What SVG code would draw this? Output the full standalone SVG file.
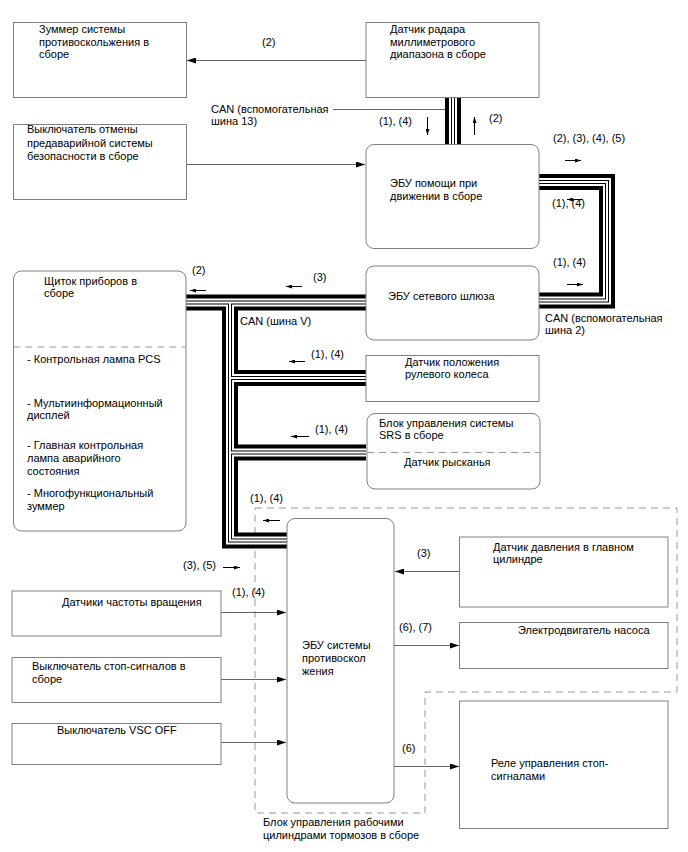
<svg xmlns="http://www.w3.org/2000/svg" width="688" height="852" viewBox="0 0 688 852">
<style>
text{font-family:"Liberation Sans",Arial,sans-serif;font-size:11px;fill:#000}
.box{fill:#fff;stroke:#808080;stroke-width:1}
.sep{stroke:#999;stroke-width:1;stroke-dasharray:7,5;fill:none}
.con{stroke:#666;stroke-width:1;fill:none}
.ind{stroke:#000;stroke-width:1;fill:none}
.b1{stroke:#000;stroke-width:16;fill:none;stroke-linejoin:miter}
.b2{stroke:#fff;stroke-width:8;fill:none;stroke-linejoin:miter}
.b3{stroke:#000;stroke-width:4;fill:none;stroke-linejoin:miter}
.b4{stroke:#fff;stroke-width:2;fill:none;stroke-linejoin:miter}
</style>
<defs>
<marker id="ah" markerUnits="userSpaceOnUse" markerWidth="9" markerHeight="6" refX="9" refY="3" orient="auto"><path d="M0,0 L9,3 L0,6 z" fill="#000"/></marker>
<marker id="sh" markerUnits="userSpaceOnUse" markerWidth="6" markerHeight="4" refX="6" refY="2" orient="auto"><path d="M0,0 L6,2 L0,4 z" fill="#000"/></marker>
</defs>

<g id="brake-actuator-boundary">
<path class="sep" d="M255,508 H677 V692 H425 V813 H255 Z"/>
<text x="263" y="826">Блок управления рабочими</text>
<text x="263" y="839">цилиндрами тормозов в сборе</text>
</g>

<g id="connectors">
<g id="buses">
<path class="b1" d="M453,97 V144"/>
<path class="b1" d="M539,182 H607 V300.5 H539"/>
<path class="b1" d="M186,302.5 H366"/>
<path class="b1" d="M230,302.5 V540.5 H287"/>
<path class="b1" d="M230,378 H366"/>
<path class="b1" d="M230,452.5 H366"/>
<path class="b2" d="M453,97 V144"/>
<path class="b2" d="M539,182 H607 V300.5 H539"/>
<path class="b2" d="M186,302.5 H366"/>
<path class="b2" d="M230,302.5 V540.5 H287"/>
<path class="b2" d="M230,378 H366"/>
<path class="b2" d="M230,452.5 H366"/>
<path class="b3" d="M453,97 V144"/>
<path class="b3" d="M539,182 H607 V300.5 H539"/>
<path class="b3" d="M186,302.5 H366"/>
<path class="b3" d="M230,302.5 V540.5 H287"/>
<path class="b3" d="M230,378 H366"/>
<path class="b3" d="M230,452.5 H366"/>
<path class="b4" d="M453,97 V144"/>
<path class="b4" d="M539,182 H607 V300.5 H539"/>
<path class="b4" d="M186,302.5 H366"/>
<path class="b4" d="M230,302.5 V540.5 H287"/>
<path class="b4" d="M230,378 H366"/>
<path class="b4" d="M230,452.5 H366"/>
</g>
<path class="con" d="M366,60.5 H187" marker-end="url(#ah)"/>
<path class="con" d="M186,164.5 H365" marker-end="url(#ah)"/>
<path class="con" d="M333,109.5 H445"/>
<path class="con" d="M459,571.5 H395" marker-end="url(#ah)"/>
<path class="con" d="M221,612.5 H286" marker-end="url(#ah)"/>
<path class="con" d="M221,679.5 H286" marker-end="url(#ah)"/>
<path class="con" d="M221,742.5 H286" marker-end="url(#ah)"/>
<path class="con" d="M394,645.5 H459" marker-end="url(#ah)"/>
<path class="con" d="M394,766.5 H459" marker-end="url(#ah)"/>
<path class="ind" d="M427.5,117 V135" marker-end="url(#sh)"/>
<path class="ind" d="M474.5,135 V117" marker-end="url(#sh)"/>
<path class="ind" d="M565,160.5 H581" marker-end="url(#sh)"/>
<path class="ind" d="M583,199.5 H567" marker-end="url(#sh)"/>
<path class="ind" d="M567,284.5 H583" marker-end="url(#sh)"/>
<path class="ind" d="M206,290.5 H190" marker-end="url(#sh)"/>
<path class="ind" d="M302,286.5 H286" marker-end="url(#sh)"/>
<path class="ind" d="M305,361.5 H289" marker-end="url(#sh)"/>
<path class="ind" d="M309,436.5 H291" marker-end="url(#sh)"/>
<path class="ind" d="M280,520.5 H263" marker-end="url(#sh)"/>
<path class="ind" d="M223,567.5 H240" marker-end="url(#sh)"/>
<text x="262" y="46">(2)</text>
<text x="211" y="113">CAN (вспомогательная</text>
<text x="211" y="125">шина 13)</text>
<text x="379" y="125">(1), (4)</text>
<text x="489" y="122">(2)</text>
<text x="553" y="142">(2), (3), (4), (5)</text>
<text x="552" y="207">(1), (4)</text>
<text x="553" y="266">(1), (4)</text>
<text x="545" y="322">CAN (вспомогательная</text>
<text x="545" y="334">шина 2)</text>
<text x="192" y="274">(2)</text>
<text x="313" y="281">(3)</text>
<text x="240" y="325">CAN (шина V)</text>
<text x="311" y="358">(1), (4)</text>
<text x="315" y="433">(1), (4)</text>
<text x="250" y="502">(1), (4)</text>
<text x="183" y="569">(3), (5)</text>
<text x="232" y="596">(1), (4)</text>
<text x="417" y="557">(3)</text>
<text x="399" y="631">(6), (7)</text>
<text x="402" y="752">(6)</text>
</g>

<g id="zummer">
<rect class="box" x="13.5" y="22.5" width="173" height="75"/>
<text x="39" y="33">Зуммер системы</text>
<text x="39" y="46">противоскольжения в</text>
<text x="39" y="58">сборе</text>
</g>

<g id="cancel-switch">
<rect class="box" x="13.5" y="124.5" width="173" height="75"/>
<text x="27" y="133">Выключатель отмены</text>
<text x="27" y="147">предаварийной системы</text>
<text x="27" y="160">безопасности в сборе</text>
</g>

<g id="radar">
<rect class="box" x="366" y="22.5" width="173" height="75"/>
<text x="390" y="33">Датчик радара</text>
<text x="390" y="46">миллиметрового</text>
<text x="390" y="58">диапазона в сборе</text>
</g>

<g id="driving-ecu">
<rect class="box" x="366" y="144.5" width="173" height="104" rx="8"/>
<text x="390" y="187">ЭБУ помощи при</text>
<text x="390" y="200">движении в сборе</text>
</g>

<g id="gateway-ecu">
<rect class="box" x="366" y="266" width="173" height="74" rx="8"/>
<text x="388" y="300">ЭБУ сетевого шлюза</text>
</g>

<g id="steering-sensor">
<rect class="box" x="366" y="355.5" width="173" height="46"/>
<text x="405" y="366">Датчик положения</text>
<text x="405" y="378">рулевого колеса</text>
</g>

<g id="srs">
<rect class="box" x="367" y="413.5" width="173" height="75.5" rx="8"/>
<path class="sep" d="M367,452.5 H540"/>
<text x="379" y="427">Блок управления системы</text>
<text x="379" y="439">SRS в сборе</text>
<text x="404" y="466">Датчик рысканья</text>
</g>

<g id="cluster">
<rect class="box" x="13.5" y="271" width="172.5" height="260" rx="8"/>
<path class="sep" d="M13.5,347 H186"/>
<text x="44" y="285">Щиток приборов в</text>
<text x="44" y="297">сборе</text>
<text x="27" y="363">- Контрольная лампа PCS</text>
<text x="27" y="407">- Мультиинформационный</text>
<text x="27" y="419">дисплей</text>
<text x="27" y="449">- Главная контрольная</text>
<text x="27" y="462">лампа аварийного</text>
<text x="27" y="475">состояния</text>
<text x="27" y="497">- Многофункциональный</text>
<text x="27" y="510">зуммер</text>
</g>

<g id="abs-ecu">
<rect class="box" x="287" y="518.5" width="107" height="284.5" rx="8"/>
<text x="302" y="649">ЭБУ системы</text>
<text x="302" y="662">противоскол</text>
<text x="302" y="675">жения</text>
</g>

<g id="master-cyl-sensor">
<rect class="box" x="459.5" y="537" width="208.5" height="70"/>
<text x="493" y="551">Датчик давления в главном</text>
<text x="493" y="563">цилиндре</text>
</g>

<g id="speed-sensors">
<rect class="box" x="12" y="591" width="209" height="45"/>
<text x="62" y="606">Датчики частоты вращения</text>
</g>

<g id="pump-motor">
<rect class="box" x="459.5" y="622.5" width="208.5" height="46"/>
<text x="518" y="634">Электродвигатель насоса</text>
</g>

<g id="stop-switch">
<rect class="box" x="12" y="657.5" width="209" height="45"/>
<text x="32" y="670">Выключатель стоп-сигналов в</text>
<text x="32" y="683">сборе</text>
</g>

<g id="relay">
<rect class="box" x="459.5" y="701" width="208.5" height="127.5"/>
<text x="491" y="767">Реле управления стоп-</text>
<text x="491" y="780">сигналами</text>
</g>

<g id="vsc-switch">
<rect class="box" x="12" y="723.5" width="209" height="41"/>
<text x="57" y="734">Выключатель VSC OFF</text>
</g>
</svg>
